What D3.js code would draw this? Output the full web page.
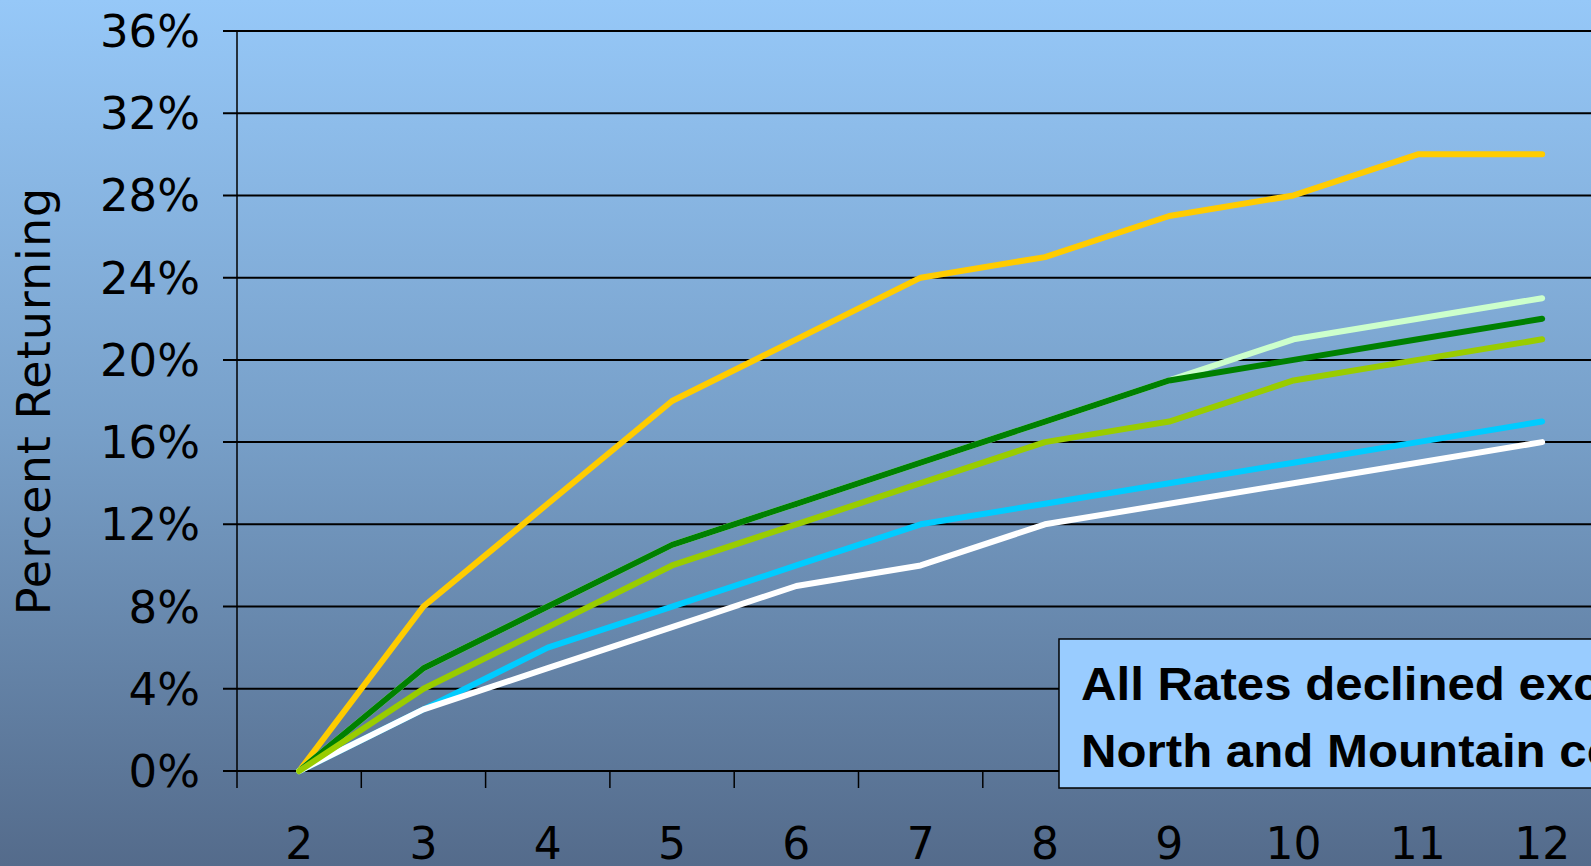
<!DOCTYPE html>
<html>
<head>
<meta charset="utf-8">
<script src="https://cdn.jsdelivr.net/npm/d3@7"></script>
<style>
  body { margin: 0; overflow: hidden; }
  svg { display: block; }
</style>
</head>
<body>
<div id="chart"></div>
<script>
// Dimensions of the page
var svgWidth = 1591;
var svgHeight = 866;

// Categories along the x axis
var categories = ["2", "3", "4", "5", "6", "7", "8", "9", "10", "11", "12"];

// Percent returning for each series
var orangeValues     = [0, 8, 13, 18, 21, 24, 25, 27, 28, 30, 30];
var lightGreenValues = [0, 5, 8, 11, 13, 15, 17, 19, 21, 22, 23];
var darkGreenValues  = [0, 5, 8, 11, 13, 15, 17, 19, 20, 21, 22];
var cyanValues       = [0, 3, 6, 8, 10, 12, 13, 14, 15, 16, 17];
var whiteValues      = [0, 3, 5, 7, 9, 10, 12, 13, 14, 15, 16];
var yellowGreenValues = [0, 4, 7, 10, 12, 14, 16, 17, 19, 20, 21];

// Y tick values
var yTicks = [0, 4, 8, 12, 16, 20, 24, 28, 32, 36];

// Series in drawing order
var series = [
    { color: "#ffcc00", values: orangeValues },
    { color: "#ccffcc", values: lightGreenValues },
    { color: "#008000", values: darkGreenValues },
    { color: "#00ccff", values: cyanValues },
    { color: "#ffffff", values: whiteValues },
    { color: "#99cc00", values: yellowGreenValues }
];

var noteLines = ["All Rates declined except", "North and Mountain counties"];

var svg = d3.select("#chart")
    .append("svg")
    .attr("width", svgWidth)
    .attr("height", svgHeight);

// Background gradient
var grad = svg.append("defs").append("linearGradient")
    .attr("id", "bg")
    .attr("x1", 0).attr("y1", 0)
    .attr("x2", 0).attr("y2", 1);
grad.append("stop").attr("offset", "0%").attr("stop-color", "#96c8f8");
grad.append("stop").attr("offset", "50%").attr("stop-color", "#779fc8");
grad.append("stop").attr("offset", "100%").attr("stop-color", "#546b8b");

svg.append("rect")
    .attr("width", svgWidth)
    .attr("height", svgHeight)
    .attr("fill", "url(#bg)");

// Scales
var x = d3.scaleBand()
    .domain(categories)
    .range([237, 237 + 11 * 124.3])
    .padding(0);

var y = d3.scaleLinear()
    .domain([0, 36])
    .range([771, 31]);

// Horizontal gridlines (with the small left tick)
svg.append("g")
    .selectAll("line")
    .data(yTicks)
    .enter()
    .append("line")
    .attr("x1", 223)
    .attr("x2", svgWidth + 20)
    .attr("y1", d => y(d))
    .attr("y2", d => y(d))
    .attr("stroke", "#000")
    .attr("stroke-width", 2);

// Y axis line
svg.append("line")
    .attr("x1", x.range()[0]).attr("x2", x.range()[0])
    .attr("y1", y(36)).attr("y2", 788)
    .attr("stroke", "#000")
    .attr("stroke-width", 1.5);

// X tick marks at band edges
svg.append("g")
    .selectAll("line")
    .data(categories)
    .enter()
    .append("line")
    .attr("x1", d => x(d) + x.bandwidth())
    .attr("x2", d => x(d) + x.bandwidth())
    .attr("y1", y(0))
    .attr("y2", 788)
    .attr("stroke", "#000")
    .attr("stroke-width", 1.5);

// Y tick labels
svg.append("g")
    .selectAll("text")
    .data(yTicks)
    .enter()
    .append("text")
    .attr("x", 200)
    .attr("y", d => y(d) + 16)
    .attr("text-anchor", "end")
    .style("font-family", "DejaVu Sans")
    .style("font-size", "45px")
    .style("fill", "#000")
    .text(d => d + "%");

// X tick labels
svg.append("g")
    .selectAll("text")
    .data(categories)
    .enter()
    .append("text")
    .attr("x", d => x(d) + x.bandwidth() / 2)
    .attr("y", 859)
    .attr("text-anchor", "middle")
    .style("font-family", "DejaVu Sans")
    .style("font-size", "44px")
    .style("fill", "#000")
    .text(d => d);

// Y axis title
svg.append("text")
    .attr("transform", "translate(50, 401) rotate(-90)")
    .attr("text-anchor", "middle")
    .style("font-family", "DejaVu Sans")
    .style("font-size", "46px")
    .style("letter-spacing", "1px")
    .style("fill", "#000")
    .text("Percent Returning");

// Lines
var line = d3.line()
    .x((d, i) => x(categories[i]) + x.bandwidth() / 2)
    .y(d => y(d));

svg.append("g")
    .selectAll("path")
    .data(series)
    .enter()
    .append("path")
    .attr("d", d => line(d.values))
    .attr("fill", "none")
    .attr("stroke", d => d.color)
    .attr("stroke-width", 6)
    .attr("stroke-linejoin", "round")
    .attr("stroke-linecap", "round");

// Note box
var note = svg.append("g");
note.append("rect")
    .attr("x", 1059)
    .attr("y", 639)
    .attr("width", 700)
    .attr("height", 149)
    .attr("fill", "#99ccff")
    .attr("stroke", "#000")
    .attr("stroke-width", 1.5);

note.selectAll("text")
    .data(noteLines)
    .enter()
    .append("text")
    .attr("transform", (d, i) => `translate(1081, ${700 + i * 67}) scale(1.07, 1)`)
    .style("font-family", "Liberation Sans, Arial, sans-serif")
    .style("font-weight", "bold")
    .style("font-size", "46px")
    .style("fill", "#000")
    .text(d => d);
</script>
</body>
</html>
